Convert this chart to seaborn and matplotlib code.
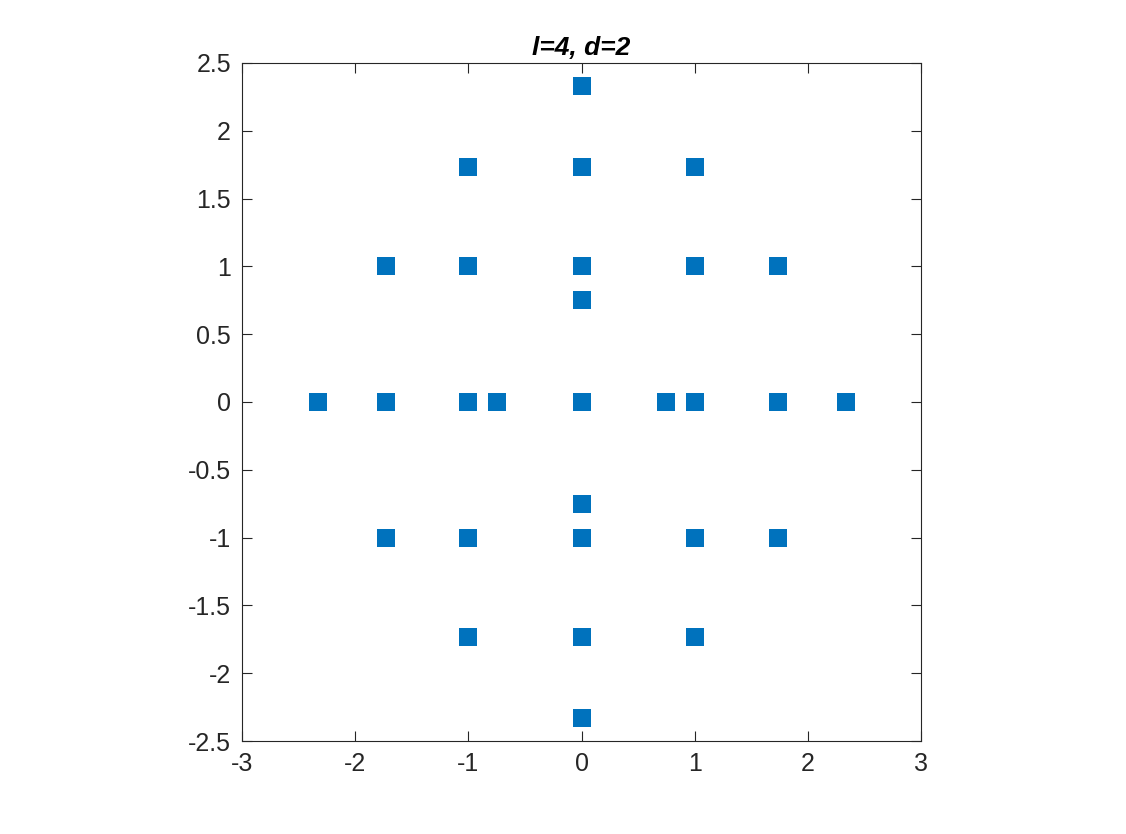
import matplotlib
matplotlib.use("Agg")
import matplotlib.pyplot as plt
import seaborn as sns
import pandas as pd

# point coordinates
x_vals = [0,
          -1, 0, 1,
          -1.732, -1, 0, 1, 1.732,
          0,
          -2.333, -1.732, -1, -0.75, 0, 0.75, 1, 1.732, 2.333,
          0,
          -1.732, -1, 0, 1, 1.732,
          -1, 0, 1,
          0]
y_vals = [2.333,
          1.732, 1.732, 1.732,
          1, 1, 1, 1, 1,
          0.75,
          0, 0, 0, 0, 0, 0, 0, 0, 0,
          -0.75,
          -1, -1, -1, -1, -1,
          -1.732, -1.732, -1.732,
          -2.333]
x_ticks = [-3, -2, -1, 0, 1, 2, 3]
y_ticks = [-2.5, -2, -1.5, -1, -0.5, 0, 0.5, 1, 1.5, 2, 2.5]
title = "l=4, d=2"

df = pd.DataFrame({"x": x_vals, "y": y_vals})

sns.set_style("white")
plt.rcParams["font.family"] = ["Liberation Sans", "DejaVu Sans"]

fig = plt.figure(figsize=(11.26, 8.34), dpi=100)
ax = fig.add_axes([0.215, 0.1115, 0.603, 0.813])

sns.scatterplot(data=df, x="x", y="y", marker="s", s=160, color="#0072BD",
                edgecolor="#0072BD", linewidth=0, ax=ax, zorder=3)

ax.set_xlim(-3, 3)
ax.set_ylim(-2.5, 2.5)
ax.set_xticks(x_ticks)
ax.set_yticks(y_ticks)
ax.set_xticklabels([f"{t:g}" for t in x_ticks])
ax.set_yticklabels([f"{t:g}" for t in y_ticks])
ax.tick_params(direction="in", length=7, width=0.8, colors="#262626",
               labelsize=18, bottom=True, left=True, top=True, right=True,
               pad=8)
for sp in ax.spines.values():
    sp.set_color("#262626")
    sp.set_linewidth(0.8)
ax.set_xlabel("")
ax.set_ylabel("")
ax.set_title(title, fontsize=19, fontweight="bold", fontstyle="italic",
             color="black", pad=6)

fig.savefig("out.png", dpi=100)
